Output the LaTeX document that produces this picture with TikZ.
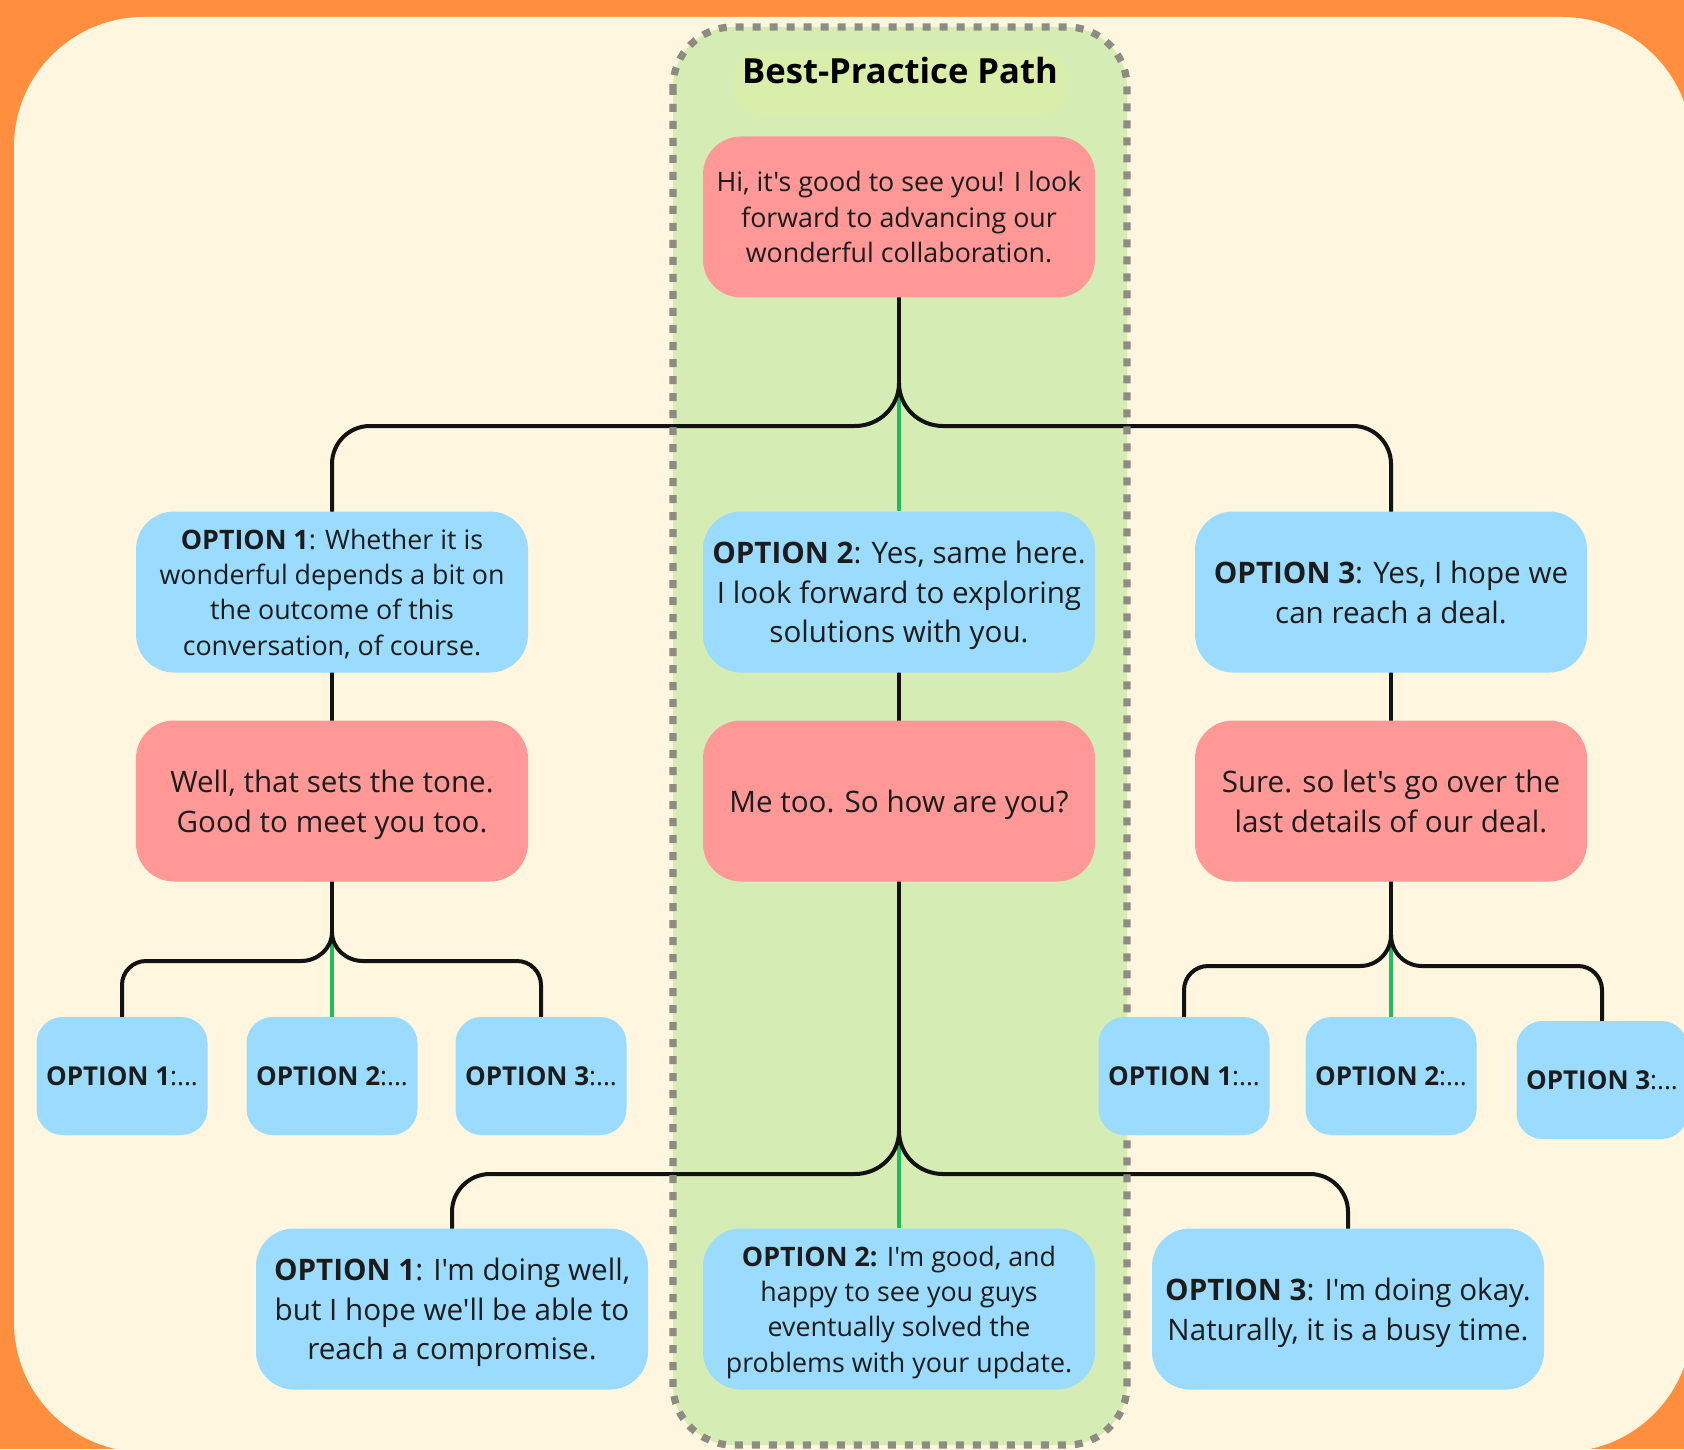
\documentclass[tikz,border=0pt]{standalone}
\usepackage{fontspec}
\setmainfont{Open Sans}[Ligatures=TeXOff]
\usetikzlibrary{calc}
\definecolor{bgorange}{HTML}{FF8E3F}
\definecolor{cream}{HTML}{FEF6DF}
\definecolor{panel}{HTML}{D5EDB5}
\definecolor{pill}{HTML}{D9EEAB}
\definecolor{nred}{HTML}{FF9896}
\definecolor{nblue}{HTML}{9BDBFD}
\definecolor{lgreen}{HTML}{1DBF5C}
\definecolor{dgray}{HTML}{8E8B82}
\definecolor{tcol}{HTML}{1C1C1C}
\pgfdeclarelayer{back}
\pgfdeclarelayer{lines}
\pgfsetlayers{back,lines,main}
\begin{document}
\begin{tikzpicture}[x=0.5pt,y=-0.5pt,
  cbox/.style={rounded corners=19pt, minimum width=196pt, minimum height=80.5pt, align=center, inner sep=0pt, text=tcol, text depth=-2.8pt},
  rbox/.style={cbox, fill=nred},
  bbox/.style={cbox, fill=nblue},
  sbox/.style={rounded corners=13pt, minimum width=85.5pt, minimum height=59pt, inner sep=0pt, fill=nblue, text=tcol, font=\fontsize{13}{15}\selectfont},
  st/.style={font=\fontsize{13.4}{17.7}\selectfont},
  bt/.style={font=\fontsize{14.8}{19.8}\selectfont},
  ln/.style={draw=black!93, line width=2pt, line cap=round},
  gl/.style={draw=lgreen, line width=1.9pt},
]
\useasboundingbox (0,0) rectangle (1684,1449);
\begin{pgfonlayer}{back}
\clip (0,0) rectangle (1684,1449);
\fill[bgorange] (0,0) rectangle (1684,1449);
\fill[cream, rounded corners=65pt] (14,17) rectangle (1692,1452);
\fill[panel, rounded corners=30pt] (673,27) rectangle (1127,1445);
\fill[pill, rounded corners=16pt] (732,50) rectangle (1068,117);
\end{pgfonlayer}

\node[font=\fontsize{17.3}{20}\selectfont\bfseries, text=black] (title) at (900,71) {Best-Practice Path};
\node[rbox, st] (top) at (899,217) {Hi, it's good to see you! I look\\forward to advancing our\\wonderful collaboration.};
\node[bbox, st] (a1) at (332,592) {\textbf{OPTION 1}: Whether it is\\wonderful depends a bit on\\the outcome of this\\conversation, of course.};
\node[bbox, bt] (a2) at (899,592) {\textbf{OPTION 2}: Yes, same here.\\I look forward to exploring\\solutions with you.};
\node[bbox, bt] (a3) at (1391,592) {\textbf{OPTION 3}: Yes, I hope we\\can reach a deal.};
\node[rbox, bt] (b1) at (332,801) {Well, that sets the tone.\\Good to meet you too.};
\node[rbox, bt] (b2) at (899,801) {Me too. So how are you?};
\node[rbox, bt] (b3) at (1391,801) {Sure. so let's go over the\\last details of our deal.};
\node[sbox] (l1) at (122,1076) {\textbf{OPTION 1}:...};
\node[sbox] (l2) at (332,1076) {\textbf{OPTION 2}:...};
\node[sbox] (l3) at (541,1076) {\textbf{OPTION 3}:...};
\node[sbox] (r1) at (1184,1076) {\textbf{OPTION 1}:...};
\node[sbox] (r2) at (1391,1076) {\textbf{OPTION 2}:...};
\node[sbox] (r3) at (1602,1080) {\textbf{OPTION 3}:...};
\node[bbox, bt] (c1) at (452,1309) {\textbf{OPTION 1}: I'm doing well,\\but I hope we'll be able to\\reach a compromise.};
\node[bbox, st] (c2) at (899,1309) {\textbf{OPTION 2:} I'm good, and\\happy to see you guys\\eventually solved the\\problems with your update.};
\node[bbox, bt] (c3) at (1348,1309) {\textbf{OPTION 3}: I'm doing okay.\\Naturally, it is a busy time.};

\begin{pgfonlayer}{lines}
% top tree
\coordinate (jA) at (899,383);
\coordinate (jAl) at (855,426);
\coordinate (jAr) at (943,426);
\draw[gl] (jA) -- (a2.north);
\draw[ln] (top.south) -- (jA);
\draw[ln] (jA) to[out=270,in=0] (jAl);
\draw[ln] (jA) to[out=270,in=180] (jAr);
\draw[ln, rounded corners=19pt] (jAl) -- (a1.north |- jAl) -- (a1.north);
\draw[ln, rounded corners=19pt] (jAr) -- (a3.north |- jAr) -- (a3.north);
% middle links
\draw[ln] (a1.south) -- (b1.north);
\draw[ln] (a2.south) -- (b2.north);
\draw[ln] (a3.south) -- (b3.north);
% left tree
\coordinate (jB) at (332,932);
\coordinate (jBl) at (301,961);
\coordinate (jBr) at (363,961);
\draw[gl] (jB) -- (l2.north);
\draw[ln] (b1.south) -- (jB);
\draw[ln] (jB) to[out=270,in=0] (jBl);
\draw[ln] (jB) to[out=270,in=180] (jBr);
\draw[ln, rounded corners=12pt] (jBl) -- (l1.north |- jBl) -- (l1.north);
\draw[ln, rounded corners=12pt] (jBr) -- (l3.north |- jBr) -- (l3.north);
% right tree
\coordinate (jD) at (1391,935);
\coordinate (jDl) at (1360,966);
\coordinate (jDr) at (1422,966);
\draw[gl] (jD) -- (r2.north);
\draw[ln] (b3.south) -- (jD);
\draw[ln] (jD) to[out=270,in=0] (jDl);
\draw[ln] (jD) to[out=270,in=180] (jDr);
\draw[ln, rounded corners=12pt] (jDl) -- (r1.north |- jDl) -- (r1.north);
\draw[ln, rounded corners=12pt] (jDr) -- (r3.north |- jDr) -- (r3.north);
% center tree
\coordinate (jC) at (899,1131);
\coordinate (jCl) at (855,1174);
\coordinate (jCr) at (943,1174);
\draw[gl] (jC) -- (c2.north);
\draw[ln] (b2.south) -- (jC);
\draw[ln] (jC) to[out=270,in=0] (jCl);
\draw[ln] (jC) to[out=270,in=180] (jCr);
\draw[ln, rounded corners=19pt] (jCl) -- (c1.north |- jCl) -- (c1.north);
\draw[ln, rounded corners=19pt] (jCr) -- (c3.north |- jCr) -- (c3.north);
% dashed frame of the best-practice path
\draw[dgray, line width=3.6pt, dash pattern=on 4pt off 4.5pt, rounded corners=30pt] (673,27) rectangle (1127,1445);
\end{pgfonlayer}
\end{tikzpicture}
\end{document}
